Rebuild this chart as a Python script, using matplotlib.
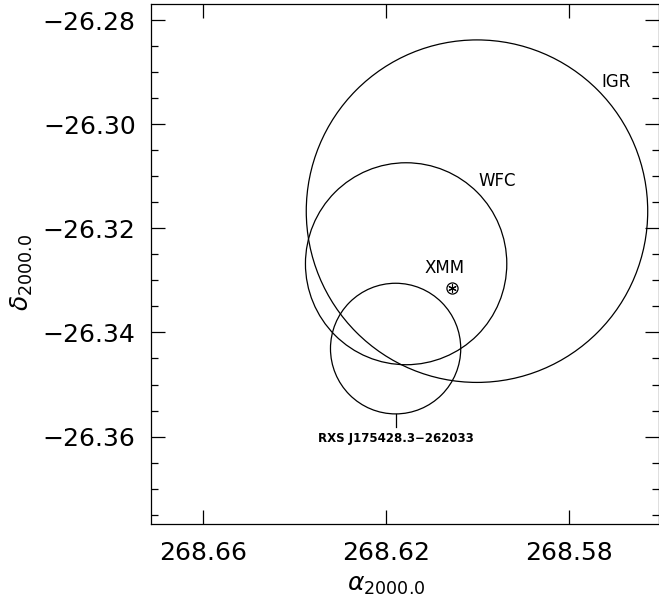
import numpy as np
import matplotlib
matplotlib.use('Agg')
import matplotlib.pyplot as plt
from matplotlib.patches import Ellipse
from matplotlib.ticker import MultipleLocator, FixedLocator

# error circles: centre RA, Dec and radius (deg of arc)
names = ['IGR', 'WFC', 'RXS J175428.3\u2212262033']
ra_c = [268.6001, 268.6156, 268.6179]
dec_c = [-26.3167, -26.3268, -26.3431]
rad = [0.0329, 0.0194, 0.01255]

# XMM position
xmm_ra = 268.6056
xmm_dec = -26.3314

xlim = (268.6714, 268.5604)
ylim = (-26.3768, -26.2769)
xticks = [268.66, 268.62, 268.58]
yticks = [-26.28, -26.30, -26.32, -26.34, -26.36]

fig = plt.figure(figsize=(6.59, 6.03), dpi=100)
ax = fig.add_axes([151/659, 1-524/603, (658.5-151)/659, (524-4)/603])

stretch = 1.135   # RA width factor so circles stay round on the sky
for ra, dec, r in zip(ra_c, dec_c, rad):
    ax.add_patch(Ellipse((ra, dec), 2*r*stretch, 2*r, fill=False, ec='black', lw=0.9))

# marker for XMM: small circle with asterisk
ax.plot(xmm_ra, xmm_dec, marker='o', ms=8, mfc='none', mec='black', mew=0.9)
ax.plot(xmm_ra, xmm_dec, marker=(6, 2, 0), ms=6, mec='black', mew=0.8)

# labels
ax.text(268.5697, -26.2919, 'IGR', fontsize=12, ha='center', va='center')
ax.text(268.5957, -26.3109, 'WFC', fontsize=12, ha='center', va='center')
ax.text(268.6073, -26.3276, 'XMM', fontsize=12, ha='center', va='center')
ax.plot([ra_c[2], ra_c[2]], [dec_c[2]-rad[2], dec_c[2]-rad[2]-0.0026], color='black', lw=0.9)
ax.text(ra_c[2], -26.3603, names[2], fontsize=8.5, ha='center', va='center', fontweight='bold')

ax.set_xlim(xlim)
ax.set_ylim(ylim)
ax.xaxis.set_major_locator(FixedLocator(xticks))
ax.yaxis.set_major_locator(FixedLocator(yticks))
ax.yaxis.set_minor_locator(MultipleLocator(0.005))
ax.set_xticklabels(['%.2f' % t for t in xticks])
ax.set_yticklabels(['\u2212%.2f' % abs(t) for t in yticks])
ax.tick_params(which='both', direction='in', top=True, right=True, labelsize=18, width=0.9)
ax.tick_params(axis='x', pad=12)
ax.tick_params(axis='y', pad=11)
ax.tick_params(which='major', length=10)
ax.tick_params(which='minor', length=5)
for s in ax.spines.values():
    s.set_linewidth(0.9)

fig.text(386/659, 1-585/603, r'$\alpha_{\mathrm{2000.0}}$', fontsize=18, ha='center', va='center')
fig.text(22/659, 1-272/603, r'$\delta_{\mathrm{2000.0}}$', fontsize=18, ha='center', va='center', rotation=90)

fig.savefig('out.png', dpi=100)
